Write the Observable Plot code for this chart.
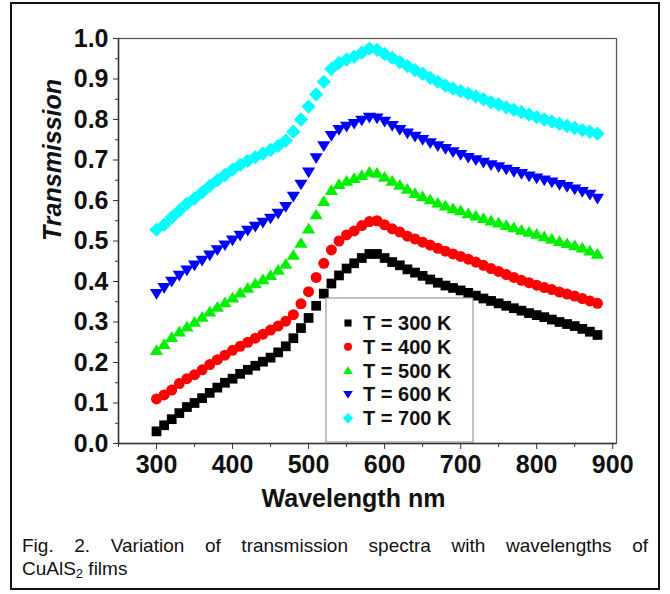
<!DOCTYPE html>
<html><head><meta charset="utf-8">
<script src="https://cdn.jsdelivr.net/npm/d3@7"></script>
<script src="https://cdn.jsdelivr.net/npm/@observablehq/plot@0.6"></script>
<style>
body{margin:0;background:#fff;}
#wrap{position:relative;width:670px;height:594px;font-family:"Liberation Sans",Arial,sans-serif;}
#border{position:absolute;left:10px;top:2px;width:646px;height:584px;border:2px solid #111;}
#chart{position:absolute;left:0;top:0;}
#caption{position:absolute;left:22px;top:534px;width:626px;font-size:19px;line-height:23px;color:#111;}
#caption .l1{text-align:justify;text-align-last:justify;}
</style></head>
<body>
<div id="wrap"><div id="border"></div><div id="chart"></div>
<div id="caption"><div class="l1">Fig. 2. Variation of transmission spectra with wavelengths of</div><div>CuAlS<sub style="font-size:13px;vertical-align:-3px;line-height:0">2</sub> films</div></div>
</div>
<script>
const wavelengths = [300,310,320,330,340,350,360,370,380,390,400,410,420,430,440,450,460,470,480,490,500,510,520,530,540,550,560,570,580,590,600,610,620,630,640,650,660,670,680,690,700,710,720,730,740,750,760,770,780,790,800,810,820,830,840,850,860,870,880];
const t300 = [0.030,0.045,0.060,0.075,0.090,0.100,0.112,0.125,0.138,0.150,0.160,0.172,0.182,0.192,0.202,0.212,0.225,0.240,0.260,0.285,0.310,0.340,0.370,0.395,0.415,0.432,0.445,0.458,0.468,0.468,0.458,0.448,0.440,0.430,0.422,0.414,0.405,0.397,0.390,0.384,0.378,0.372,0.365,0.358,0.352,0.346,0.340,0.334,0.328,0.322,0.317,0.312,0.306,0.300,0.295,0.290,0.283,0.276,0.268];
const t400 = [0.110,0.120,0.132,0.148,0.160,0.170,0.182,0.195,0.207,0.218,0.230,0.240,0.250,0.260,0.270,0.280,0.290,0.302,0.318,0.345,0.375,0.410,0.445,0.478,0.500,0.515,0.525,0.538,0.548,0.550,0.540,0.530,0.522,0.512,0.505,0.497,0.490,0.482,0.475,0.468,0.462,0.455,0.448,0.440,0.432,0.425,0.417,0.410,0.403,0.397,0.391,0.385,0.380,0.374,0.369,0.364,0.358,0.352,0.346];
const t500 = [0.230,0.245,0.262,0.276,0.288,0.300,0.312,0.325,0.337,0.348,0.360,0.372,0.384,0.395,0.405,0.415,0.428,0.443,0.465,0.495,0.530,0.565,0.598,0.625,0.640,0.648,0.655,0.662,0.670,0.668,0.658,0.648,0.638,0.628,0.618,0.610,0.602,0.594,0.587,0.580,0.575,0.568,0.562,0.556,0.550,0.545,0.539,0.533,0.527,0.522,0.517,0.511,0.505,0.499,0.494,0.489,0.483,0.476,0.468];
const t600 = [0.370,0.385,0.400,0.415,0.428,0.440,0.452,0.465,0.478,0.490,0.502,0.514,0.526,0.536,0.546,0.556,0.568,0.585,0.610,0.640,0.670,0.705,0.735,0.760,0.775,0.783,0.790,0.798,0.805,0.803,0.795,0.785,0.775,0.766,0.758,0.750,0.742,0.735,0.728,0.720,0.713,0.706,0.700,0.694,0.688,0.683,0.677,0.671,0.666,0.660,0.655,0.650,0.645,0.639,0.634,0.628,0.622,0.615,0.605];
const t700 = [0.528,0.540,0.558,0.575,0.592,0.605,0.620,0.636,0.650,0.663,0.676,0.688,0.698,0.707,0.716,0.725,0.735,0.748,0.770,0.800,0.832,0.862,0.893,0.925,0.940,0.948,0.955,0.965,0.975,0.972,0.962,0.952,0.942,0.932,0.922,0.913,0.903,0.893,0.884,0.876,0.870,0.864,0.857,0.850,0.843,0.837,0.830,0.824,0.818,0.812,0.806,0.800,0.795,0.789,0.784,0.779,0.774,0.770,0.765];
const seriesNames = ["T = 300 K","T = 400 K","T = 500 K","T = 600 K","T = 700 K"];
const seriesColors = ["#000000","#ff0000","#00f000","#0000ff","#00ffff"];
const xTicks = [300,400,500,600,700,800,900];
const xMinorTicks = [250,350,450,550,650,750,850];
const yTicks = [0,0.1,0.2,0.3,0.4,0.5,0.6,0.7,0.8,0.9,1.0];
const yMinorTicks = [0.05,0.15,0.25,0.35,0.45,0.55,0.65,0.75,0.85,0.95];

// custom symbols (size = pi r^2)
const symSquare = {draw(c, size){const s=Math.sqrt(size)/2; c.moveTo(-s,-s); c.lineTo(s,-s); c.lineTo(s,s); c.lineTo(-s,s); c.closePath();}};
const symCircle = {draw(c, size){const r=Math.sqrt(size/Math.PI); c.moveTo(r,0); c.arc(0,0,r,0,2*Math.PI);}};
const symTriUp = {draw(c, size){const r=Math.sqrt(size/Math.PI); const w=r*1.2; c.moveTo(0,-r*1.1); c.lineTo(w,r*0.85); c.lineTo(-w,r*0.85); c.closePath();}};
const symTriDown = {draw(c, size){const r=Math.sqrt(size/Math.PI); const w=r*1.2; c.moveTo(0,r*1.1); c.lineTo(w,-r*0.85); c.lineTo(-w,-r*0.85); c.closePath();}};
const symDiamond = {draw(c, size){const r=Math.sqrt(size/Math.PI)*1.3; c.moveTo(0,-r); c.lineTo(r,0); c.lineTo(0,r); c.lineTo(-r,0); c.closePath();}};
const seriesSymbols = [symSquare, symCircle, symTriUp, symTriDown, symDiamond];
const seriesValues = [t300, t400, t500, t600, t700];

const series = seriesNames.map((name, i) => ({
  name, color: seriesColors[i], symbol: seriesSymbols[i],
  data: wavelengths.map((w, j) => ({wl: w, t: seriesValues[i][j]}))
}));

const font = '"Liberation Sans", Arial, sans-serif';
const plot = Plot.plot({
  width: 670, height: 515,
  marginLeft: 118, marginRight: 54, marginTop: 38, marginBottom: 72,
  style: {fontFamily: font, color: "#111", background: "transparent"},
  x: {domain: [250, 905]},
  y: {domain: [0, 1]},
  marks: [
    Plot.frame({stroke: "#555", strokeWidth: 1.2}),
    ...series.map(s => Plot.dot(s.data, {x: "wl", y: "t", symbol: s.symbol, fill: s.color, stroke: "none", r: 5.5})),
    Plot.axisY({ticks: yTicks, tickSize: 5, tickPadding: 5, tickFormat: d3.format(".1f"), fontSize: 25, fontWeight: "bold", label: null, stroke: "#333"}),
    Plot.axisY({ticks: yMinorTicks, tickSize: 3, text: null, label: null, stroke: "#333"}),
    Plot.ruleX([250], {stroke: "#333", strokeWidth: 1.5}),
    Plot.axisX({ticks: xTicks, tickSize: 6, tickPadding: 6, fontSize: 25, fontWeight: "bold", label: null, stroke: "#333"}),
    Plot.axisX({ticks: xMinorTicks, tickSize: 4, text: null, label: null, stroke: "#333"}),
    Plot.ruleY([0], {stroke: "#333", strokeWidth: 1.5}),
    Plot.text(["Wavelength nm"], {frameAnchor: "bottom", lineAnchor: "middle", dy: 55, dx: -14, fontSize: 25, fontWeight: "bold", fill: "#111"}),
    Plot.text(["Transmission"], {frameAnchor: "left", lineAnchor: "middle", rotate: -90, dx: -66, fontSize: 25, fontWeight: "bold", fontStyle: "italic", fill: "#111"})
  ]
});
document.getElementById("chart").appendChild(plot);

// legend inside the plot
const svg = d3.select(plot);
const lg = svg.append("g").attr("font-family", font).attr("text-anchor", "start");
const bx = 326, by = 298, bw = 147, bh = 144;
lg.append("rect").attr("x", bx).attr("y", by).attr("width", bw).attr("height", bh)
  .attr("fill", "#fff").attr("stroke", "#888").attr("stroke-width", 1);
series.forEach((s, i) => {
  const cy = by + 25 + i * 23.8;
  lg.append("path").attr("transform", `translate(${bx + 22},${cy})`)
    .attr("d", d3.symbol(s.symbol, Math.PI * 4 * 4)()).attr("fill", s.color);
  lg.append("text").attr("x", bx + 37).attr("y", cy).attr("dy", "0.35em").attr("text-anchor", "start")
    .attr("font-size", 20).attr("font-weight", "bold").attr("fill", "#111").text(s.name);
});
</script>
</body></html>
